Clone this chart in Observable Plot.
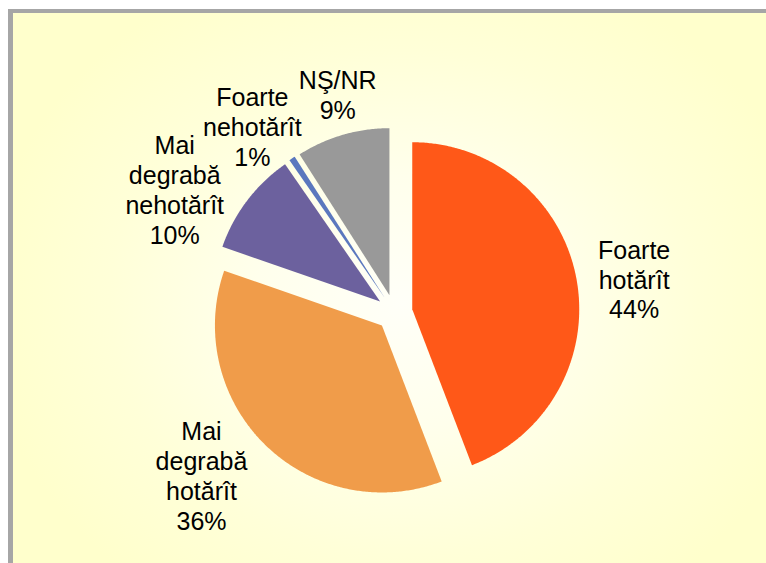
<!DOCTYPE html>
<html><head><meta charset="utf-8">
<script src="https://cdn.jsdelivr.net/npm/d3@7"></script>
<script src="https://cdn.jsdelivr.net/npm/@observablehq/plot@0.6"></script>
<style>
html,body{margin:0;padding:0;background:#fff;}
#wrap{position:relative;width:766px;height:563px;overflow:hidden;}
#frame{position:absolute;left:8px;top:9px;right:0;bottom:0;border-left:5px solid #A6A6A6;border-top:4px solid #A6A6A6;
  background:radial-gradient(ellipse 420px 360px at 390px 290px, #FFFFF8 0%, #FFFFEC 35%, #FFFFD8 70%, #FFFFCC 100%);}
#chart{position:absolute;left:0;top:0;}
#chart svg{background:transparent !important;}
</style></head>
<body><div id="wrap"><div id="frame"></div><div id="chart"></div></div>
<script>
// ---- data ----
const categories = ["Foarte hotărît", "Mai degrabă hotărît", "Mai degrabă nehotărît", "Foarte nehotărît", "NŞ/NR"];
const labelText = ["Foarte\nhotărît", "Mai\ndegrabă\nhotărît", "Mai\ndegrabă\nnehotărît", "Foarte\nnehotărît", "NŞ/NR"];
const values = [44, 36, 10, 0.6, 9];   // shares, %; the 1% slice is a thin sliver
const colors = ["#FF5818", "#F09C4A", "#6C619E", "#5B78BE", "#999999"];

// ---- layout (not data) ----
const explode = 0.108;               // slice offset, in radius units
const labelShift = [2.5, 5.8, -8.0, -3.7, 1.7];   // degrees added to mid angle
const labelDist = [1.449, 1.511, 1.508, 1.404, 1.351]; // radius units

const total = d3.sum(values);
const arcs = d3.pie().sort(null).value(d => d)(values);
const slicePts = [];
const labels = [];
arcs.forEach((a, i) => {
  const mid = (a.startAngle + a.endAngle) / 2;
  const ex = explode * Math.sin(mid), ey = explode * Math.cos(mid);
  slicePts.push({cat: categories[i], x: ex, y: ey});
  const steps = Math.max(4, Math.ceil((a.endAngle - a.startAngle) / (Math.PI / 360)));
  for (let k = 0; k <= steps; k++) {
    const t = a.startAngle + (a.endAngle - a.startAngle) * k / steps;
    slicePts.push({cat: categories[i], x: ex + Math.sin(t), y: ey + Math.cos(t)});
  }
  const la = mid + labelShift[i] * Math.PI / 180;
  labels.push({
    x: labelDist[i] * Math.sin(la),
    y: labelDist[i] * Math.cos(la),
    text: labelText[i] + "\n" + Math.round(values[i] / total * 100) + "%"
  });
});

const chart = Plot.plot({
  width: 766, height: 563, margin: 0,
  x: {domain: [-1, 1], range: [227, 561], axis: null},
  y: {domain: [-1, 1], range: [479, 145], axis: null},
  color: {domain: categories, range: colors, legend: false},
  style: {background: "transparent"},
  marks: [
    Plot.line(slicePts, {x: "x", y: "y", z: "cat", fill: "cat", stroke: "none", curve: "linear-closed"}),
    Plot.text(labels, {x: "x", y: "y", text: "text", fontSize: 25,
      fontFamily: "'Liberation Sans', Arial, sans-serif", lineHeight: 1.2,
      textAnchor: "middle", lineAnchor: "middle", fill: "#000"})
  ]
});
document.getElementById("chart").appendChild(chart);
</script>
</body></html>
